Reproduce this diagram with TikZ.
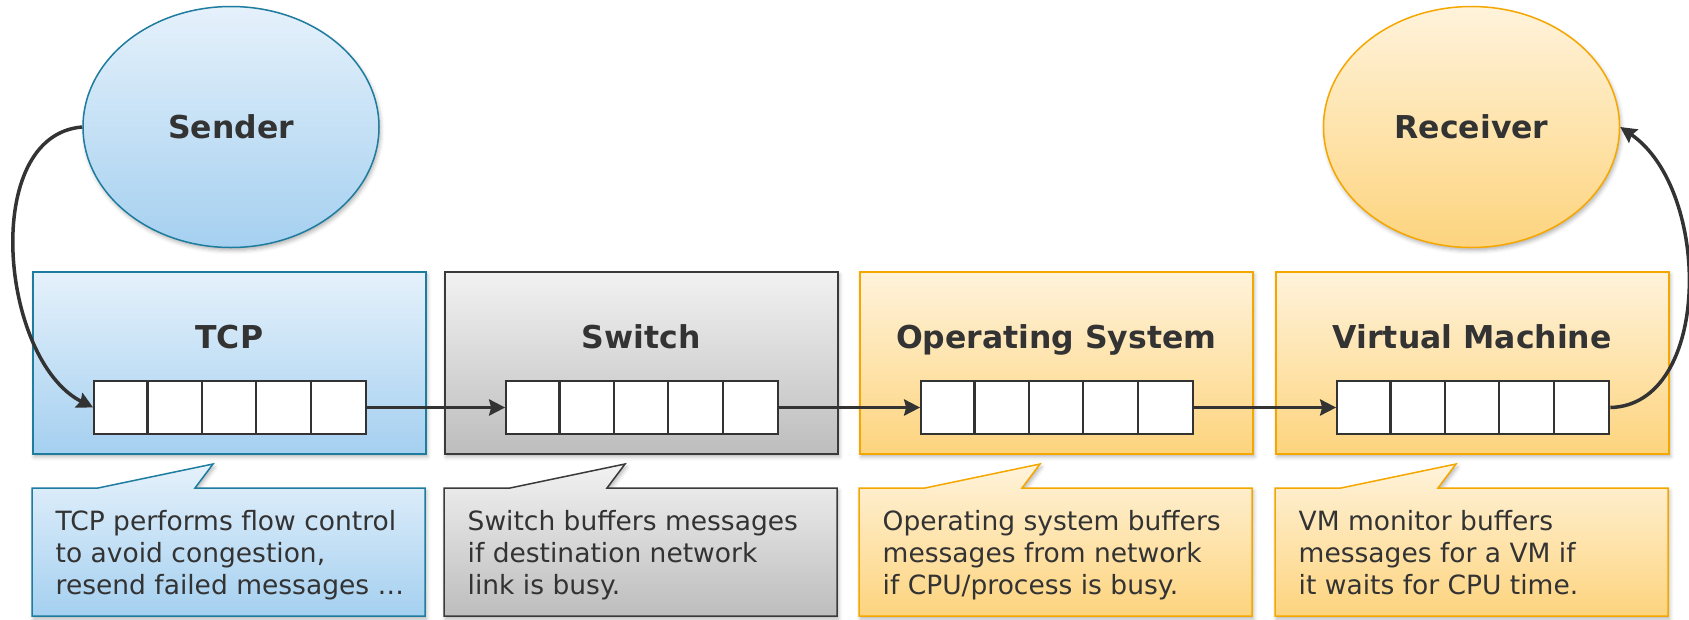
\documentclass[tikz,border=0pt]{standalone}
\usepackage{fontspec}
\setmainfont{DejaVu Sans}
\usetikzlibrary{arrows.meta,shapes.geometric,shadows.blur,calc}

\definecolor{ink}{HTML}{333333}
\definecolor{blueTop}{HTML}{E5F1FB}
\definecolor{blueBot}{HTML}{A5D0F0}
\definecolor{blueLine}{HTML}{1E7C9E}
\definecolor{grayTop}{HTML}{F2F2F2}
\definecolor{grayBot}{HTML}{BDBDBD}
\definecolor{grayLine}{HTML}{3A3A3A}
\definecolor{orTop}{HTML}{FFF3DB}
\definecolor{orBot}{HTML}{FDD47E}
\definecolor{orLine}{HTML}{F5A700}

\tikzset{
  softshadow/.style={blur shadow={shadow xshift=1.5pt,shadow yshift=-3pt,
      shadow blur radius=4pt,shadow opacity=30}},
  bluefill/.style={top color=blueTop,bottom color=blueBot,draw=blueLine},
  grayfill/.style={top color=grayTop,bottom color=grayBot,draw=grayLine},
  orfill/.style={top color=orTop,bottom color=orBot,draw=orLine},
  panel/.style={line width=1.5pt,minimum width=393pt,minimum height=182pt,
      inner sep=0pt,anchor=north west,softshadow},
  endpoint/.style={ellipse,line width=1.5pt,minimum width=296pt,
      minimum height=241pt,inner sep=0pt,softshadow,
      font=\bfseries\fontsize{31.5}{36}\selectfont},
  title/.style={font=\bfseries\fontsize{31.5}{36}\selectfont,anchor=base},
  note/.style={font=\fontsize{26.5}{32}\selectfont,align=left,
      anchor=base west,inner sep=0pt},
  queue/.style={draw=ink,line width=2.2pt,fill=white,minimum width=272pt,
      minimum height=53pt,inner sep=0pt},
  cell/.style={draw=ink,line width=2.2pt},
  flow/.style={draw=ink,line width=3.5pt,
      -{Stealth[length=16pt,width=16pt,inset=2pt]}},
}

% one buffering stage: panel with title and five-slot queue, plus a note below
% #1 name, #2 left edge, #3 colour style, #4 title, #5 note text
% (the note's base anchor sits on the baseline of its last line)
\newcommand\buffstage[5]{%
  \node[panel,#3] (#1box) at (#2,-271) {};
  \node[title] (#1title) at ($(#1box.north)+(0,-77)$) {#4};
  \node[queue] (#1q) at ($(#1box.north)+(1,-136.5)$) {};
  \foreach \k in {1,...,4}
    \draw[cell] ($(#1q.north west)+(54.4*\k,0)$) -- ($(#1q.south west)+(54.4*\k,0)$);
  \path[#3,line width=1.5pt,softshadow]
    (#2,-488) -- ++(66,0) -- ++(115,24) -- ++(-18,-24)
    -- (#2+393,-488) -- (#2+393,-616) -- (#2,-616) -- cycle;
  \node[note] (#1note) at (#2+23.5,-594) {#5};
}

\begin{document}
\begin{tikzpicture}[x=1pt,y=1pt,every node/.style={text=ink}]
\useasboundingbox (0,0) rectangle (1689,-619);

\node[endpoint,bluefill] (sender) at (231,-127) {Sender};
\node[endpoint,orfill] (receiver) at (1471.5,-127) {Receiver};

\buffstage{tcp}{32}{bluefill}{TCP}
  {TCP performs flow control\\to avoid congestion,\\resend failed messages …}
\buffstage{sw}{444}{grayfill}{Switch}
  {Switch buffers messages\\if destination network\\link is busy.}
\buffstage{os}{859}{orfill}{Operating System}
  {Operating system buffers\\messages from network\\if CPU/process is busy.}
\buffstage{vm}{1275}{orfill}{Virtual Machine}
  {VM monitor buffers\\messages for a VM if\\it waits for CPU time.}

\draw[flow] (sender.west) .. controls (-20,-135) and (0,-360) .. (tcpq.west);
\draw[flow] (tcpq.east) -- (swq.west);
\draw[flow] (swq.east) -- (osq.west);
\draw[flow] (osq.east) -- (vmq.west);
\draw[flow] (vmq.east) .. controls (1712,-405) and (1712,-190) .. (receiver.east);
\end{tikzpicture}
\end{document}
